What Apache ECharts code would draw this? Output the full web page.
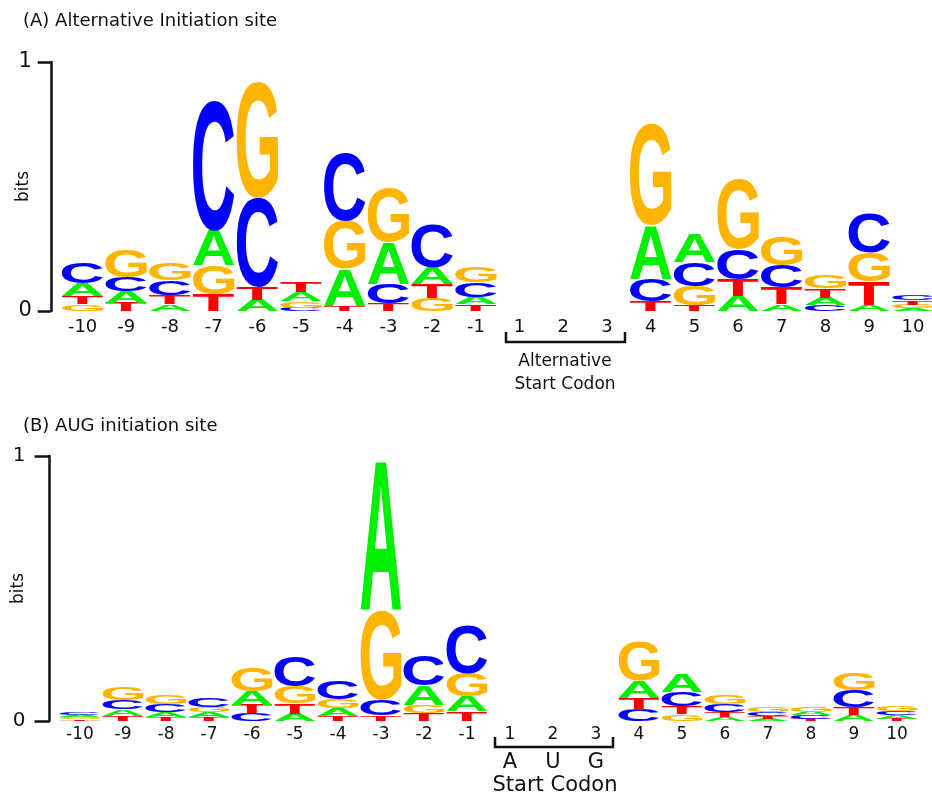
<!DOCTYPE html>
<html>
<head>
<meta charset="utf-8">
<script src="https://cdn.jsdelivr.net/npm/echarts@6/dist/echarts.min.js"></script>
<style>
html,body{margin:0;padding:0;background:#ffffff;}
#chart{width:932px;height:794px;}
</style>
</head>
<body>
<div id="chart"></div>
<script>
// ---- Data ----
const positions = ['-10','-9','-8','-7','-6','-5','-4','-3','-2','-1','1','2','3','4','5','6','7','8','9','10'];
const yTicks = ['0', '1'];
const letters = ['A', 'C', 'G', 'T'];
const letterColors = ['#00f000', '#0000ff', '#ffb400', '#ff0000'];

// Panel A: Alternative initiation site (bits per letter at each position)
const altA = [0.05,0.044,0.027,0.138,0.045,0.036,0.148,0.168,0.067,0.03,0,0,0,0.215,0.114,0.06,0.027,0.03,0.023,0.012];
const altC = [0.085,0.056,0.06,0.524,0.36,0.013,0.276,0.08,0.175,0.058,0,0,0,0.087,0.094,0.121,0.09,0.024,0.159,0.02];
const altG = [0.028,0.108,0.067,0.117,0.465,0.027,0.195,0.215,0.052,0.062,0,0,0,0.406,0.077,0.28,0.116,0.054,0.118,0.013];
const altT = [0.032,0.034,0.035,0.067,0.05,0.04,0.02,0.03,0.056,0.027,0,0,0,0.04,0.024,0.067,0.067,0.036,0.094,0.017];

// Panel B: AUG initiation site
const augA = [0.009,0.023,0.017,0.017,0.051,0.028,0.03,0.564,0.075,0.056,0,0,0,0.063,0.07,0.015,0.009,0.014,0.024,0.014];
const augC = [0.01,0.034,0.031,0.034,0.03,0.113,0.069,0.06,0.113,0.182,0,0,0,0.042,0.055,0.028,0.013,0.012,0.063,0.016];
const augG = [0.008,0.05,0.033,0.021,0.09,0.063,0.033,0.338,0.031,0.088,0,0,0,0.15,0.026,0.035,0.02,0.018,0.065,0.019];
const augT = [0.006,0.02,0.015,0.015,0.032,0.04,0.02,0.02,0.03,0.036,0,0,0,0.046,0.028,0.019,0.011,0.009,0.029,0.009];

// ---- Glyph metrics (to fit each letter exactly into its stack box) ----
const LOGO_FONT_FAMILY = 'Liberation Sans';
const LOGO_FONT_SIZE = 100;
const mcv = document.createElement('canvas');
const mctx = mcv.getContext('2d');
mctx.font = 'normal bold ' + LOGO_FONT_SIZE + 'px ' + LOGO_FONT_FAMILY;
mctx.textAlign = 'center';
mctx.textBaseline = 'middle';
const metrics = letters.map(function (ch) {
  const m = mctx.measureText(ch);
  const asc = m.actualBoundingBoxAscent, desc = m.actualBoundingBoxDescent;
  const l = m.actualBoundingBoxLeft, r = m.actualBoundingBoxRight;
  return { w: l + r, h: asc + desc, offX: (r - l) / 2, offY: (desc - asc) / 2 };
});

function buildStacks(arrs) {
  const out = [];
  for (let i = 0; i < positions.length; i++) {
    const items = [];
    for (let k = 0; k < letters.length; k++) {
      if (arrs[k][i] > 0) items.push({ k: k, v: arrs[k][i] });
    }
    items.sort(function (a, b) { return a.v - b.v; });
    let acc = 0;
    items.forEach(function (it) {
      out.push([i, acc, acc + it.v, it.k]);
      acc += it.v;
    });
  }
  return out;
}

const stacksAlt = buildStacks([altA, altC, altG, altT]);
const stacksAug = buildStacks([augA, augC, augG, augT]);

function renderLetter(params, api) {
  const i = api.value(0), y0 = api.value(1), y1 = api.value(2), k = api.value(3);
  const p0 = api.coord([i, y0]);
  const p1 = api.coord([i, y1]);
  const band = api.size([1, 0])[0];
  const w = band * 0.95;
  const h = p0[1] - p1[1];
  if (h <= 0.2) return null;
  const cx = p0[0];
  const cy = (p0[1] + p1[1]) / 2;
  const m = metrics[k];
  const sx = w / m.w, sy = h / m.h;
  return {
    type: 'text',
    x: cx - m.offX * sx,
    y: cy - m.offY * sy,
    scaleX: sx,
    scaleY: sy,
    silent: true,
    style: {
      text: letters[k],
      fontSize: LOGO_FONT_SIZE,
      fontFamily: LOGO_FONT_FAMILY,
      fontWeight: 'bold',
      fill: letterColors[k],
      align: 'center',
      verticalAlign: 'middle'
    }
  };
}

const TXT = '#111111';
const FONT = 'DejaVu Sans';

function yAxisCfg(gi, off, tickLen, margin, gap, labelSize) {
  return {
    type: 'value', gridIndex: gi, min: 0, max: 1, interval: 1, offset: off,
    axisLine: { show: true, lineStyle: { color: TXT, width: 2.5 } },
    axisTick: { show: true, length: tickLen, lineStyle: { color: TXT, width: 2.5 } },
    axisLabel: { fontSize: labelSize, fontFamily: FONT, color: TXT, margin: margin,
      formatter: function (v) { return yTicks[v] !== undefined ? yTicks[v] : ''; } },
    splitLine: { show: false },
    name: 'bits', nameLocation: 'middle', nameGap: gap, nameMoveOverlap: false,
    nameTextStyle: { fontSize: 17, fontFamily: FONT, color: TXT }
  };
}

function xAxisCfg(gi, size, margin) {
  return {
    type: 'category', gridIndex: gi, data: positions, boundaryGap: true,
    axisLine: { show: false }, axisTick: { show: false },
    axisLabel: { interval: 0, fontSize: size, fontFamily: FONT, color: TXT, margin: margin },
    splitLine: { show: false }
  };
}

const chart = echarts.init(document.getElementById('chart'), null, { renderer: 'canvas' });
const option = {
  backgroundColor: '#ffffff',
  animation: false,
  title: [
    { text: '(A) Alternative Initiation site', left: 23, top: 12, padding: 0,
      textStyle: { fontSize: 18, fontWeight: 'normal', fontFamily: FONT, color: TXT } },
    { text: '(B) AUG initiation site', left: 23, top: 417, padding: 0,
      textStyle: { fontSize: 18, fontWeight: 'normal', fontFamily: FONT, color: TXT } }
  ],
  grid: [
    { left: 60.75, top: 62, width: 874, height: 249, containLabel: false, outerBoundsMode: 'none' },
    { left: 58.5, top: 456, width: 860, height: 265, containLabel: false, outerBoundsMode: 'none' }
  ],
  xAxis: [xAxisCfg(0, 18, 7), xAxisCfg(1, 17, 5)],
  yAxis: [yAxisCfg(0, 10, 13, 19, 19, 21), yAxisCfg(1, 9, 15, 24, 22, 20)],
  series: [
    { type: 'custom', xAxisIndex: 0, yAxisIndex: 0, renderItem: renderLetter,
      encode: { x: 0, y: 2 }, data: stacksAlt, clip: false },
    { type: 'custom', xAxisIndex: 1, yAxisIndex: 1, renderItem: renderLetter,
      encode: { x: 0, y: 2 }, data: stacksAug, clip: false }
  ],
  graphic: [
    { type: 'polyline', silent: true,
      shape: { points: [[506, 332], [506, 342], [625, 342], [625, 332]] },
      style: { stroke: TXT, lineWidth: 2.5, fill: null } },
    { type: 'text', silent: true, x: 565, y: 362,
      style: { text: 'Alternative', fontSize: 17, fontFamily: FONT, fill: TXT, align: 'center', verticalAlign: 'middle' } },
    { type: 'text', silent: true, x: 565, y: 385,
      style: { text: 'Start Codon', fontSize: 17, fontFamily: FONT, fill: TXT, align: 'center', verticalAlign: 'middle' } },
    { type: 'polyline', silent: true,
      shape: { points: [[495, 737], [495, 747], [613, 747], [613, 737]] },
      style: { stroke: TXT, lineWidth: 2.5, fill: null } },
    { type: 'text', silent: true, x: 510, y: 763,
      style: { text: 'A', fontSize: 21, fontFamily: FONT, fill: TXT, align: 'center', verticalAlign: 'middle' } },
    { type: 'text', silent: true, x: 553, y: 763,
      style: { text: 'U', fontSize: 21, fontFamily: FONT, fill: TXT, align: 'center', verticalAlign: 'middle' } },
    { type: 'text', silent: true, x: 596, y: 763,
      style: { text: 'G', fontSize: 21, fontFamily: FONT, fill: TXT, align: 'center', verticalAlign: 'middle' } },
    { type: 'text', silent: true, x: 555, y: 786,
      style: { text: 'Start Codon', fontSize: 21, fontFamily: FONT, fill: TXT, align: 'center', verticalAlign: 'middle' } }
  ]
};
chart.setOption(option);
</script>
</body>
</html>
